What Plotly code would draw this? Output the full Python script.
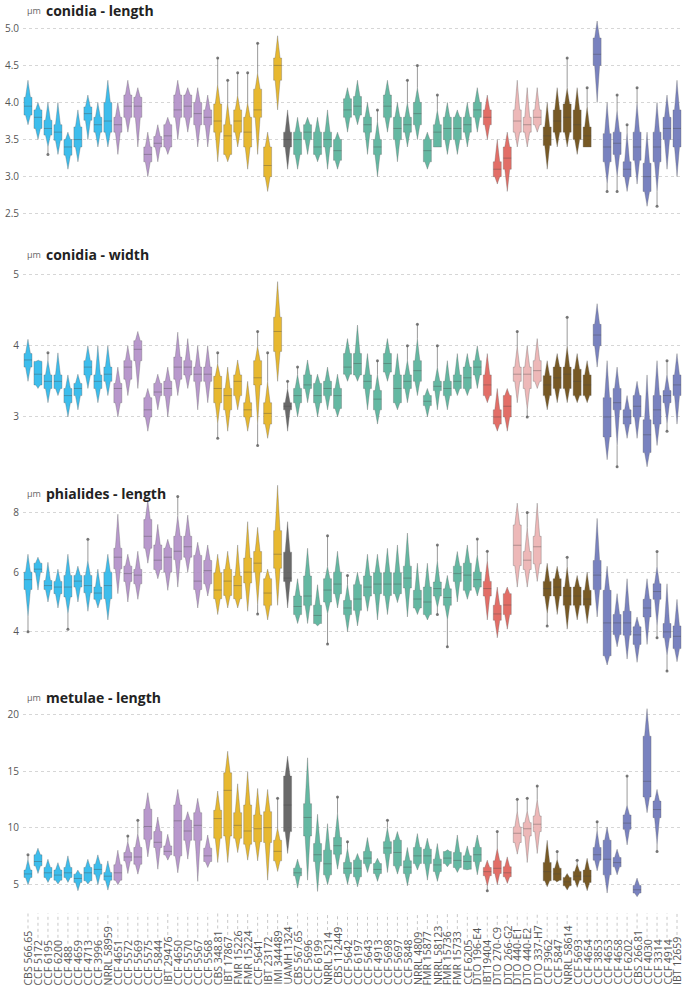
import plotly.graph_objects as go

strains = ["CBS 566.65", "CCF 5172", "CCF 6195", "CCF 6200", "CCF 488", "CCF 4659", "CCF 4713",
           "CCF 3996", "NRRL 58959", "CCF 4651", "CCF 5572", "CCF 5569", "CCF 5575", "CCF 5844",
           "IBT 29476", "CCF 4650", "CCF 5570", "CCF 5567", "CCF 5568", "CBS 348.81", "IBT 17867",
           "FMR 15226", "FMR 15224", "CCF 5641", "IBT 23172", "IMI 344489", "UAMH 1324", "CBS 567.65",
           "CCF 5696", "CCF 6199", "NRRL 5214", "CBS 112449", "CCF 5642", "CCF 6197", "CCF 5643",
           "CCF 4913", "CCF 5698", "CCF 5697", "CCF 5848", "NRRL 4809", "FMR 15877", "NRRL 58123",
           "FMR 15736", "FMR 15733", "CCF 6205", "DTO 196-E4", "IBT19404", "DTO 270-C9", "DTO 266-G2",
           "DTO 440-E1", "DTO 440-E2", "DTO 337-H7", "CCF 3962", "CCF 5847", "NRRL 58614", "CCF 5693",
           "CCF 4654", "CCF 3853", "CCF 4653", "CCF 4658", "CCF 6202", "CBS 266.81", "CCF 4030",
           "CCF 3314", "CCF 4914", "IBT 12659"]

clade_sizes = [9, 10, 7, 1, 19, 3, 3, 5, 9]
clade_colors = ["#2cb7ea", "#b28fc8", "#e5b21e", "#5c5c5c", "#57b29a", "#e0625a", "#ecb2b2", "#6b4b12", "#6e77ba"]

# ---- conidia - length ----
cl_q1 = [3.83, 3.65, 3.56, 3.49, 3.29, 3.40, 3.76, 3.60, 3.60, 3.60,
         3.80, 3.80, 3.20, 3.40, 3.40, 3.80, 3.80, 3.70, 3.70, 3.60,
         3.30, 3.60, 3.40, 3.80, 3.00, 4.30, 3.40, 3.30, 3.50, 3.30,
         3.40, 3.22, 3.80, 3.83, 3.60, 3.30, 3.80, 3.50, 3.60, 3.70,
         3.20, 3.40, 3.50, 3.50, 3.60, 3.80, 3.70, 3.00, 3.10, 3.60,
         3.60, 3.70, 3.42, 3.60, 3.60, 3.50, 3.40, 4.50, 3.20, 3.30,
         3.00, 3.22, 2.80, 3.20, 3.50, 3.40]
cl_med = [3.95, 3.80, 3.65, 3.60, 3.40, 3.50, 3.85, 3.70, 3.75, 3.70,
          3.95, 3.95, 3.30, 3.45, 3.55, 3.90, 3.95, 3.85, 3.80, 3.75,
          3.55, 3.75, 3.60, 3.90, 3.15, 4.50, 3.50, 3.50, 3.60, 3.40,
          3.50, 3.35, 3.90, 3.95, 3.70, 3.40, 3.95, 3.65, 3.70, 3.85,
          3.35, 3.60, 3.65, 3.65, 3.70, 3.90, 3.80, 3.10, 3.25, 3.75,
          3.70, 3.80, 3.55, 3.75, 3.80, 3.70, 3.55, 4.65, 3.40, 3.45,
          3.10, 3.40, 3.00, 3.40, 3.65, 3.65]
cl_q3 = [4.07, 3.90, 3.76, 3.70, 3.50, 3.67, 3.94, 3.80, 4.00, 3.80,
         4.10, 4.07, 3.40, 3.54, 3.70, 4.10, 4.10, 4.00, 3.90, 3.98,
         3.70, 3.90, 3.80, 4.18, 3.40, 4.60, 3.60, 3.60, 3.70, 3.60,
         3.60, 3.50, 4.05, 4.08, 3.80, 3.50, 4.10, 3.80, 3.80, 4.00,
         3.50, 3.70, 3.80, 3.80, 3.80, 4.00, 3.90, 3.20, 3.40, 3.90,
         3.80, 3.90, 3.67, 3.90, 3.98, 3.90, 3.67, 4.87, 3.58, 3.60,
         3.20, 3.60, 3.18, 3.60, 3.80, 3.90]
cl_lo = [3.70, 3.50, 3.40, 3.30, 3.10, 3.20, 3.50, 3.40, 3.40, 3.30,
         3.60, 3.40, 3.00, 3.20, 3.30, 3.50, 3.60, 3.40, 3.40, 3.20,
         3.20, 3.40, 3.10, 3.30, 2.80, 3.90, 3.10, 3.10, 3.30, 3.20,
         3.10, 3.10, 3.60, 3.70, 3.30, 3.00, 3.60, 3.20, 3.40, 3.50,
         3.10, 3.40, 3.30, 3.30, 3.40, 3.60, 3.50, 2.90, 2.80, 3.40,
         3.40, 3.60, 3.10, 3.40, 3.40, 3.30, 3.40, 4.00, 2.90, 3.00,
         2.80, 2.90, 2.60, 2.80, 3.10, 3.00]
cl_hi = [4.30, 4.00, 4.00, 4.00, 3.60, 3.90, 4.10, 4.00, 4.30, 4.00,
         4.30, 4.20, 3.60, 3.70, 3.80, 4.30, 4.20, 4.20, 4.10, 4.25,
         4.00, 4.10, 4.00, 4.40, 3.60, 4.90, 3.90, 3.80, 3.80, 3.80,
         3.90, 3.60, 4.20, 4.30, 4.00, 3.75, 4.30, 4.00, 4.00, 4.20,
         3.60, 3.90, 4.00, 3.90, 4.00, 4.20, 4.10, 3.50, 3.60, 4.30,
         4.20, 4.20, 4.00, 4.20, 4.20, 4.20, 3.95, 5.10, 4.00, 3.90,
         3.60, 4.00, 3.60, 4.00, 4.10, 4.30]
cl_min = [3.70, 3.50, 3.30, 3.30, 3.10, 3.20, 3.50, 3.40, 3.40, 3.30,
          3.60, 3.40, 3.00, 3.20, 3.30, 3.50, 3.60, 3.40, 3.40, 3.20,
          3.20, 3.40, 3.10, 3.30, 2.80, 3.90, 3.10, 3.10, 3.30, 3.20,
          3.10, 3.10, 3.60, 3.70, 3.30, 3.00, 3.60, 3.20, 3.40, 3.50,
          3.10, 3.40, 3.30, 3.30, 3.40, 3.60, 3.50, 2.90, 2.80, 3.40,
          3.40, 3.60, 3.10, 3.40, 3.40, 3.30, 3.40, 4.00, 2.80, 2.80,
          2.80, 2.90, 2.60, 2.60, 3.10, 3.00]
cl_max = [4.30, 4.00, 4.00, 4.00, 3.60, 3.90, 4.10, 4.00, 4.30, 4.00,
          4.30, 4.20, 3.60, 3.70, 3.80, 4.30, 4.20, 4.20, 4.10, 4.60,
          4.30, 4.40, 4.40, 4.80, 3.60, 4.90, 3.90, 3.80, 3.80, 3.80,
          3.90, 3.60, 4.20, 4.30, 4.00, 3.90, 4.30, 4.00, 4.30, 4.50,
          3.60, 4.10, 4.00, 3.90, 4.00, 4.20, 4.10, 3.50, 3.60, 4.30,
          4.20, 4.20, 4.00, 4.20, 4.60, 4.20, 4.20, 5.10, 4.00, 4.10,
          3.70, 4.20, 3.60, 4.00, 4.10, 4.30]

# ---- conidia - width ----
cw_q1 = [3.70, 3.45, 3.40, 3.40, 3.20, 3.30, 3.59, 3.40, 3.50, 3.20,
         3.53, 3.79, 3.00, 3.30, 3.30, 3.53, 3.59, 3.50, 3.50, 3.20,
         3.10, 3.30, 3.00, 3.45, 2.90, 3.92, 3.10, 3.20, 3.40, 3.20,
         3.30, 3.12, 3.60, 3.59, 3.40, 3.10, 3.63, 3.20, 3.40, 3.50,
         3.16, 3.37, 3.30, 3.40, 3.40, 3.59, 3.30, 2.90, 3.00, 3.50,
         3.40, 3.50, 3.30, 3.40, 3.40, 3.30, 3.30, 4.00, 2.72, 3.10,
         2.90, 3.00, 2.50, 2.90, 3.20, 3.30]
cw_med = [3.80, 3.60, 3.50, 3.50, 3.30, 3.40, 3.70, 3.50, 3.60, 3.40,
          3.70, 3.95, 3.10, 3.35, 3.40, 3.70, 3.70, 3.60, 3.60, 3.40,
          3.30, 3.50, 3.10, 3.55, 3.05, 4.20, 3.15, 3.30, 3.45, 3.30,
          3.40, 3.30, 3.70, 3.75, 3.50, 3.25, 3.75, 3.40, 3.50, 3.65,
          3.22, 3.43, 3.40, 3.50, 3.55, 3.70, 3.45, 3.00, 3.15, 3.60,
          3.60, 3.65, 3.45, 3.55, 3.60, 3.50, 3.45, 4.15, 3.00, 3.20,
          3.00, 3.15, 2.75, 3.10, 3.30, 3.45]
cw_q3 = [3.89, 3.78, 3.59, 3.59, 3.40, 3.47, 3.79, 3.59, 3.70, 3.47,
         3.79, 4.07, 3.27, 3.47, 3.50, 3.84, 3.79, 3.70, 3.70, 3.57,
         3.40, 3.59, 3.20, 3.79, 3.20, 4.40, 3.20, 3.40, 3.59, 3.47,
         3.50, 3.40, 3.89, 3.89, 3.59, 3.37, 3.89, 3.59, 3.59, 3.79,
         3.30, 3.50, 3.50, 3.59, 3.70, 3.79, 3.59, 3.10, 3.30, 3.70,
         3.70, 3.79, 3.58, 3.70, 3.70, 3.67, 3.59, 4.30, 3.27, 3.40,
         3.10, 3.30, 2.96, 3.30, 3.37, 3.59]
cw_lo = [3.50, 3.40, 3.20, 3.30, 3.00, 3.10, 3.40, 3.20, 3.30, 3.00,
         3.30, 3.40, 2.80, 3.10, 3.00, 3.30, 3.40, 3.10, 3.20, 2.90,
         2.80, 3.10, 2.80, 2.90, 2.70, 3.50, 2.80, 3.00, 3.20, 3.00,
         3.10, 3.00, 3.50, 3.50, 3.10, 2.90, 3.50, 3.10, 3.20, 3.30,
         3.00, 3.10, 3.10, 3.30, 3.30, 3.40, 3.20, 2.80, 2.80, 3.20,
         3.10, 3.40, 3.10, 3.20, 3.20, 3.20, 3.20, 3.70, 2.40, 2.60,
         2.70, 2.70, 2.30, 2.60, 2.90, 2.90]
cw_hi = [4.09, 3.80, 3.80, 3.90, 3.59, 3.60, 4.00, 4.00, 4.00, 3.70,
         4.00, 4.20, 3.40, 3.60, 3.70, 4.19, 4.10, 4.00, 4.00, 3.75,
         3.70, 3.80, 3.50, 4.00, 3.50, 4.90, 3.40, 3.60, 3.80, 3.60,
         3.70, 3.60, 4.10, 4.29, 3.89, 3.60, 4.10, 3.89, 3.80, 4.10,
         3.40, 3.70, 3.79, 3.89, 3.89, 4.00, 3.89, 3.40, 3.40, 4.00,
         4.00, 4.10, 3.79, 3.89, 4.00, 3.89, 3.79, 4.59, 3.79, 3.70,
         3.30, 3.50, 3.59, 3.79, 3.60, 3.89]
cw_min = [3.50, 3.40, 3.20, 3.30, 3.00, 3.10, 3.40, 3.20, 3.30, 3.00,
          3.30, 3.40, 2.80, 3.10, 3.00, 3.30, 3.40, 3.10, 3.20, 2.70,
          2.80, 3.10, 2.80, 2.60, 2.70, 3.50, 2.80, 3.00, 3.20, 3.00,
          3.10, 3.00, 3.50, 3.50, 3.10, 2.90, 3.50, 3.10, 3.20, 3.30,
          3.00, 3.10, 3.10, 3.30, 3.30, 3.40, 3.20, 2.80, 2.80, 3.20,
          3.00, 3.40, 3.10, 3.20, 3.20, 3.20, 3.20, 3.70, 2.40, 2.30,
          2.70, 2.70, 2.30, 2.60, 2.80, 2.90]
cw_max = [4.09, 3.80, 3.90, 3.90, 3.59, 3.60, 4.00, 4.00, 4.00, 3.70,
          4.00, 4.20, 3.40, 3.60, 3.70, 4.19, 4.10, 4.00, 4.00, 3.90,
          3.70, 3.80, 3.50, 4.20, 3.90, 4.90, 3.50, 3.70, 3.80, 3.60,
          3.70, 3.60, 4.10, 4.29, 3.89, 3.79, 4.10, 3.89, 4.00, 4.30,
          3.40, 4.00, 3.79, 3.89, 3.89, 4.00, 3.89, 3.40, 3.40, 4.20,
          4.00, 4.10, 3.79, 3.89, 4.40, 3.89, 3.79, 4.59, 3.79, 3.70,
          3.30, 3.50, 3.59, 3.79, 3.79, 3.89]

# ---- phialides - length ----
pl_q1 = [5.42, 6.00, 5.42, 5.28, 5.17, 5.50, 5.31, 5.09, 5.11, 6.11,
         5.69, 5.61, 6.80, 6.09, 6.00, 6.42, 6.50, 5.42, 5.61, 5.11,
         5.22, 5.11, 5.64, 6.00, 4.89, 6.13, 5.69, 4.58, 4.89, 4.28,
         5.00, 5.28, 4.58, 4.72, 5.20, 5.28, 5.22, 5.28, 5.47, 4.80,
         4.58, 5.20, 4.89, 5.69, 5.39, 5.50, 5.20, 4.39, 4.58, 6.22,
         6.09, 6.28, 5.20, 5.20, 4.89, 4.89, 4.89, 5.42, 3.20, 3.91,
         3.89, 3.58, 4.50, 5.09, 3.80, 3.44]
pl_med = [5.75, 6.10, 5.55, 5.50, 5.50, 5.70, 5.55, 5.30, 5.55, 6.50,
          5.95, 5.90, 7.20, 6.40, 6.50, 6.70, 6.85, 5.70, 6.05, 5.40,
          5.70, 5.55, 6.00, 6.30, 5.30, 6.60, 5.80, 4.85, 5.20, 4.55,
          5.40, 5.60, 4.80, 5.10, 5.50, 5.60, 5.60, 5.60, 5.80, 5.10,
          5.00, 5.45, 5.15, 5.95, 5.90, 5.75, 5.45, 4.60, 4.90, 6.90,
          6.40, 6.85, 5.45, 5.50, 5.20, 5.20, 5.10, 5.90, 4.30, 4.30,
          4.30, 3.90, 4.80, 5.35, 4.00, 3.85]
pl_q3 = [6.00, 6.30, 5.72, 5.69, 5.89, 5.89, 5.89, 5.50, 6.00, 6.80,
         6.20, 6.09, 7.76, 6.91, 6.80, 7.20, 7.20, 6.56, 6.39, 5.98,
         6.09, 5.87, 6.47, 6.69, 5.78, 7.39, 6.67, 5.20, 5.87, 4.89,
         5.78, 6.00, 5.05, 5.58, 5.87, 5.98, 5.98, 5.98, 6.20, 5.39,
         5.50, 5.67, 5.44, 6.20, 6.30, 6.00, 5.69, 4.89, 5.28, 7.58,
         6.69, 7.20, 5.69, 5.78, 5.50, 5.50, 5.39, 6.39, 5.39, 4.58,
         4.69, 4.17, 5.09, 5.61, 4.28, 4.20]
pl_lo = [4.50, 5.40, 5.00, 4.80, 4.60, 5.00, 4.69, 4.80, 4.40, 5.28,
         5.00, 5.09, 6.30, 5.78, 5.39, 5.50, 6.00, 4.80, 5.20, 4.58,
         4.80, 4.80, 4.69, 4.90, 4.40, 4.89, 4.80, 4.28, 4.28, 4.20,
         4.60, 4.80, 4.00, 4.20, 4.69, 4.40, 4.58, 4.98, 4.50, 4.58,
         4.40, 4.80, 4.40, 5.00, 5.09, 5.20, 4.40, 3.80, 4.09, 5.50,
         5.50, 5.69, 4.60, 4.58, 4.09, 4.40, 4.28, 4.50, 2.89, 3.50,
         3.09, 2.98, 3.58, 4.20, 3.20, 3.00]
pl_hi = [6.60, 6.50, 6.33, 6.10, 6.60, 6.20, 6.40, 6.10, 6.60, 7.94,
         6.60, 6.70, 8.42, 7.60, 7.10, 7.90, 7.91, 7.00, 6.91, 6.60,
         6.70, 6.91, 7.69, 7.50, 6.10, 8.91, 7.69, 5.78, 6.80, 5.58,
         6.20, 6.70, 5.60, 6.00, 6.60, 6.60, 6.80, 6.91, 7.31, 6.30,
         6.30, 6.40, 5.89, 6.69, 6.91, 6.60, 6.40, 5.50, 5.50, 8.31,
         7.50, 8.31, 6.30, 6.20, 6.20, 5.89, 6.00, 7.80, 6.20, 5.28,
         5.78, 4.50, 5.78, 6.20, 5.61, 5.09]
pl_min = [4.00, 5.40, 5.00, 4.80, 4.09, 5.00, 4.69, 4.80, 4.40, 5.28,
          5.00, 5.09, 6.30, 5.78, 5.39, 5.50, 6.00, 4.80, 5.20, 4.58,
          4.80, 4.80, 4.69, 4.60, 4.40, 4.89, 4.80, 4.28, 4.28, 4.20,
          3.59, 4.80, 4.00, 4.20, 4.69, 4.40, 4.58, 4.98, 4.50, 4.58,
          4.40, 4.58, 3.50, 5.00, 5.09, 5.20, 4.40, 3.80, 4.09, 5.50,
          5.50, 5.69, 4.20, 4.58, 4.09, 4.40, 4.28, 4.50, 2.89, 3.50,
          3.09, 2.98, 3.58, 3.80, 2.69, 3.00]
pl_max = [6.60, 6.50, 6.33, 6.10, 6.60, 6.20, 7.10, 6.10, 6.60, 7.94,
          6.60, 6.70, 8.42, 7.60, 7.10, 8.53, 7.91, 7.00, 6.91, 6.60,
          6.70, 6.91, 7.69, 7.50, 6.10, 8.91, 7.69, 5.78, 6.80, 5.58,
          7.22, 6.70, 5.89, 6.00, 6.60, 6.60, 6.80, 6.91, 7.31, 6.30,
          6.30, 6.91, 5.89, 6.69, 6.91, 7.11, 6.70, 5.50, 5.50, 8.31,
          8.00, 8.31, 6.30, 6.20, 6.50, 5.89, 6.00, 7.80, 6.20, 5.28,
          5.78, 4.50, 5.78, 6.69, 5.61, 5.09]

# ---- metulae - length (no data for the last two strains) ----
ml_q1 = [5.59, 6.62, 5.59, 5.35, 5.59, 5.15, 5.30, 5.88, 5.35, 5.35,
         7.06, 6.76, 8.97, 8.24, 7.59, 7.50, 8.88, 8.88, 7.00, 9.06,
         9.26, 9.06, 8.53, 8.76, 8.68, 7.06, 9.65, 5.74, 9.26, 7.00,
         5.82, 7.65, 5.94, 5.65, 6.82, 5.94, 7.71, 6.62, 5.94, 6.82,
         6.82, 6.12, 6.82, 6.47, 6.32, 7.00, 5.74, 5.94, 5.65, 8.68,
         9.26, 9.65, 5.29, 5.35, 4.85, 5.35, 5.15, 7.12, 5.82, 6.53,
         9.85, 4.21, 12.71, 10.88, None, None]
ml_med = [5.90, 7.00, 6.00, 5.80, 6.00, 5.50, 6.00, 6.30, 5.70, 6.00,
          7.40, 7.40, 10.10, 8.70, 7.90, 10.60, 9.70, 10.20, 7.50, 10.80,
          13.30, 10.20, 9.70, 9.90, 10.00, 7.90, 12.00, 6.00, 10.90, 7.60,
          6.80, 8.40, 6.40, 6.40, 7.30, 6.30, 8.20, 7.80, 6.50, 7.50,
          7.50, 6.70, 7.30, 7.10, 7.00, 7.60, 6.10, 6.40, 6.00, 9.50,
          9.90, 10.30, 6.10, 5.90, 5.20, 5.70, 5.70, 7.60, 7.20, 6.90,
          10.40, 4.50, 14.10, 11.60, None, None]
ml_q3 = [6.24, 7.59, 6.47, 6.24, 6.47, 5.88, 6.47, 6.76, 6.03, 6.71,
         7.79, 8.24, 11.62, 9.65, 8.38, 12.00, 10.65, 11.32, 8.18, 11.53,
         14.85, 11.32, 12.00, 11.12, 11.41, 8.88, 14.56, 6.41, 12.12, 8.59,
         8.00, 9.12, 6.91, 7.12, 7.88, 6.82, 8.76, 8.88, 7.06, 8.24,
         8.09, 7.21, 7.88, 7.79, 7.50, 8.24, 6.47, 7.06, 6.53, 10.06,
         10.44, 11.03, 6.91, 6.41, 5.59, 6.12, 6.24, 8.24, 8.88, 7.35,
         11.12, 4.88, 18.09, 12.35, None, None]
ml_lo = [4.94, 5.94, 5.15, 5.00, 5.15, 4.41, 5.00, 4.94, 4.47, 4.94,
         5.94, 5.88, 7.41, 6.32, 7.12, 6.00, 7.21, 5.24, 6.47, 6.91,
         6.91, 7.79, 7.12, 7.06, 5.35, 6.12, 7.71, 4.65, 5.35, 4.35,
         4.94, 6.32, 4.97, 4.76, 6.03, 5.24, 6.03, 5.88, 4.85, 6.24,
         5.35, 5.24, 6.53, 6.03, 6.24, 5.82, 4.80, 4.94, 5.06, 7.65,
         6.91, 7.71, 4.76, 5.15, 4.47, 4.71, 4.41, 6.18, 4.21, 5.82,
         8.47, 3.88, 11.32, 8.47, None, None]
ml_hi = [7.20, 8.18, 7.20, 6.90, 7.50, 6.24, 7.20, 7.59, 7.06, 8.00,
         8.80, 9.50, 13.09, 10.94, 9.41, 13.38, 11.41, 12.59, 9.35, 13.24,
         16.76, 13.88, 14.94, 13.47, 13.38, 10.00, 16.32, 7.21, 16.18, 11.18,
         10.35, 11.30, 8.20, 7.71, 9.12, 7.29, 10.00, 9.65, 8.24, 9.47,
         9.06, 8.59, 8.09, 9.35, 8.38, 9.35, 7.12, 8.20, 7.41, 11.50,
         11.50, 12.50, 8.88, 7.20, 5.94, 6.80, 7.29, 9.80, 10.06, 8.09,
         12.00, 5.53, 20.53, 13.38, None, None]
ml_min = [4.94, 5.94, 5.15, 5.00, 5.15, 4.41, 5.00, 4.94, 4.47, 4.94,
          5.94, 5.88, 7.41, 6.32, 7.12, 6.00, 7.21, 5.24, 6.47, 6.91,
          6.91, 7.79, 7.12, 7.06, 5.35, 6.12, 7.71, 4.65, 5.35, 4.35,
          4.94, 6.32, 4.97, 4.76, 6.03, 5.24, 6.03, 5.88, 4.85, 6.24,
          5.35, 5.24, 6.53, 6.03, 6.24, 5.82, 4.41, 4.94, 5.06, 7.65,
          6.91, 7.71, 4.76, 5.15, 4.47, 4.71, 4.41, 6.18, 4.21, 5.82,
          8.47, 3.88, 11.32, 7.88, None, None]
ml_max = [7.60, 8.18, 7.20, 6.90, 7.50, 6.24, 7.20, 7.59, 7.06, 8.00,
          9.26, 10.65, 13.09, 10.94, 9.41, 13.38, 11.41, 12.59, 9.35, 13.24,
          16.76, 13.88, 14.94, 13.47, 13.38, 12.59, 16.32, 7.21, 16.18, 11.18,
          10.35, 12.71, 8.76, 7.71, 9.12, 7.29, 10.65, 9.65, 8.24, 9.47,
          9.06, 8.59, 8.09, 9.35, 8.38, 9.35, 7.12, 9.65, 7.41, 12.50,
          12.59, 13.68, 8.88, 7.88, 5.94, 7.12, 7.29, 10.53, 10.06, 8.09,
          14.56, 5.53, 20.53, 13.38, None, None]

W, H = 689, 989


def py(px):
    return 1 - px / H


panels = [
    dict(title="conidia - length", q1=cl_q1, med=cl_med, q3=cl_q3, lo=cl_lo, hi=cl_hi, mn=cl_min, mx=cl_max,
         yr=[2.40, 5.10], ticks=[2.5, 3.0, 3.5, 4.0, 4.5, 5.0], fmt=".1f", dom=[218, 17], ty=7),
    dict(title="conidia - width", q1=cw_q1, med=cw_med, q3=cw_q3, lo=cw_lo, hi=cw_hi, mn=cw_min, mx=cw_max,
         yr=[2.24, 5.05], ticks=[3, 4, 5], fmt="d", dom=[469, 268], ty=252),
    dict(title="phialides - length", q1=pl_q1, med=pl_med, q3=pl_q3, lo=pl_lo, hi=pl_hi, mn=pl_min, mx=pl_max,
         yr=[2.58, 8.95], ticks=[4, 6, 8], fmt="d", dom=[673, 482], ty=491),
    dict(title="metulae - length", q1=ml_q1, med=ml_med, q3=ml_q3, lo=ml_lo, hi=ml_hi, mn=ml_min, mx=ml_max,
         yr=[3.65, 20.75], ticks=[5, 10, 15, 20], fmt="d", dom=[899, 705], ty=696),
]

colors = []
for c, n in zip(clade_colors, clade_sizes):
    colors += [c] * n


def rgba(hexc, a):
    h = hexc.lstrip("#")
    return "rgba(%d,%d,%d,%.2f)" % (int(h[0:2], 16), int(h[2:4], 16), int(h[4:6], 16), a)


HW = 0.4


def boxen(i, lo, q1, q3, hi):
    up = hi - q3
    dn = q1 - lo
    a, b, c = 0.62 * HW, 0.34 * HW, 0.1 * HW
    xs = [i - HW, i - HW, i - a, i - b, i - c, i, i + c, i + b, i + a, i + HW,
          i + HW, i + a, i + b, i + c, i, i - c, i - b, i - a, i - HW]
    ys = [q1, q3, q3, q3 + 0.4 * up, q3 + 0.8 * up, hi, q3 + 0.8 * up, q3 + 0.4 * up, q3, q3,
          q1, q1, q1 - 0.4 * dn, q1 - 0.8 * dn, lo, q1 - 0.8 * dn, q1 - 0.4 * dn, q1, q1]
    return xs, ys


# approximate advance widths (em) of Open Sans, used only to stop the dotted leaders at the label ends
EM = {" ": 0.26, ".": 0.266, "-": 0.322, "A": 0.633, "B": 0.648, "C": 0.631, "D": 0.729, "E": 0.556,
      "F": 0.516, "G": 0.728, "H": 0.738, "I": 0.279, "L": 0.519, "M": 0.903, "N": 0.754, "O": 0.779,
      "R": 0.618, "S": 0.549, "T": 0.553, "U": 0.728}
LABEL_SIZE = 10.5


def text_len(s):
    return sum(EM.get(ch, 0.572) for ch in s) * LABEL_SIZE


fig = go.Figure()
n = len(strains)
for k, p in enumerate(panels):
    xa = "x" if k == 0 else "x%d" % (k + 1)
    ya = "y" if k == 0 else "y%d" % (k + 1)
    # whiskers
    wx, wy, ex, ey = [], [], [], []
    for i in range(n):
        if p["q1"][i] is None:
            continue
        if p["mx"][i] > p["hi"][i] + 1e-9:
            wx += [i, i, None]
            wy += [p["hi"][i], p["mx"][i], None]
            ex.append(i)
            ey.append(p["mx"][i])
        if p["mn"][i] < p["lo"][i] - 1e-9:
            wx += [i, i, None]
            wy += [p["lo"][i], p["mn"][i], None]
            ex.append(i)
            ey.append(p["mn"][i])
    fig.add_trace(go.Scatter(x=wx, y=wy, mode="lines", line=dict(color="rgba(120,120,120,0.75)", width=1),
                             hoverinfo="skip", showlegend=False, xaxis=xa, yaxis=ya))
    fig.add_trace(go.Scatter(x=ex, y=ey, mode="markers", marker=dict(color="rgba(90,90,90,0.8)", size=3),
                             hoverinfo="skip", showlegend=False, xaxis=xa, yaxis=ya))
    # letter-value shapes, one trace per clade
    start = 0
    for col, cnt in zip(clade_colors, clade_sizes):
        xs, ys = [], []
        for i in range(start, start + cnt):
            if p["q1"][i] is None:
                continue
            sx, sy = boxen(i, p["lo"][i], p["q1"][i], p["q3"][i], p["hi"][i])
            xs += sx + [None]
            ys += sy + [None]
        start += cnt
        if xs:
            fig.add_trace(go.Scatter(x=xs, y=ys, mode="lines", fill="toself", fillcolor=rgba(col, 0.92),
                                     line=dict(color="rgba(95,95,95,0.55)", width=0.6),
                                     hoverinfo="skip", showlegend=False, xaxis=xa, yaxis=ya))
    # medians
    mx_, my_ = [], []
    for i in range(n):
        if p["med"][i] is None:
            continue
        mx_ += [i - HW, i + HW, None]
        my_ += [p["med"][i], p["med"][i], None]
    fig.add_trace(go.Scatter(x=mx_, y=my_, mode="lines", line=dict(color="rgba(70,70,70,0.45)", width=0.8),
                             hoverinfo="skip", showlegend=False, xaxis=xa, yaxis=ya))

    sfx = "" if k == 0 else str(k + 1)
    fig.layout["xaxis" + sfx] = dict(domain=[0, 1], range=[-0.5, n - 0.5], anchor=ya, showticklabels=False,
                                     showgrid=False, zeroline=False, showline=False, ticks="")
    ticktext = [format(t, p["fmt"]) if p["fmt"] != "d" else str(int(t)) for t in p["ticks"]]
    fig.layout["yaxis" + sfx] = dict(domain=[py(p["dom"][0]), py(p["dom"][1])], range=p["yr"], anchor=xa,
                                     tickvals=p["ticks"], ticktext=ticktext, showgrid=True,
                                     gridcolor="#d6d6d6", griddash="dot", gridwidth=1, zeroline=False,
                                     showline=False, ticks="", ticklabelstandoff=3,
                                     tickfont=dict(family="Open Sans", size=10, color="#555555"))
    fig.add_annotation(xref="paper", yref="paper", x=2 / W, y=py(p["ty"]), xanchor="left", yanchor="middle",
                       text="µm", showarrow=False, font=dict(family="Open Sans", size=9, color="#666666"))
    fig.add_annotation(xref="paper", yref="paper", x=22 / W, y=py(p["ty"]), xanchor="left", yanchor="middle",
                       text="<b>%s</b>" % p["title"], showarrow=False,
                       font=dict(family="Open Sans", size=14, color="#222222"))

# strain labels at the bottom, with dotted leaders up to the last panel
LABEL_BOTTOM = 986
LEADER_TOP = 913
for i, s in enumerate(strains):
    end = LABEL_BOTTOM - text_len(s) - 3
    fig.add_shape(type="line", xref="x4", yref="paper", x0=i, x1=i, y0=py(end), y1=py(LEADER_TOP),
                  line=dict(color="#c8c8c8", width=1, dash="dot"))
    fig.add_annotation(xref="x4", yref="paper", x=i, y=py(LABEL_BOTTOM), xanchor="center", yanchor="bottom",
                       text=s, textangle=-90, showarrow=False, borderpad=0,
                       font=dict(family="Open Sans", size=LABEL_SIZE, color="#555555"))

fig.update_layout(width=W, height=H, margin=dict(l=23, r=7, t=0, b=0), plot_bgcolor="white",
                  paper_bgcolor="white", showlegend=False)

fig.write_html("out.html", config={"displayModeBar": False},
               post_script="document.body.style.margin='0';document.body.style.overflow='hidden';")
